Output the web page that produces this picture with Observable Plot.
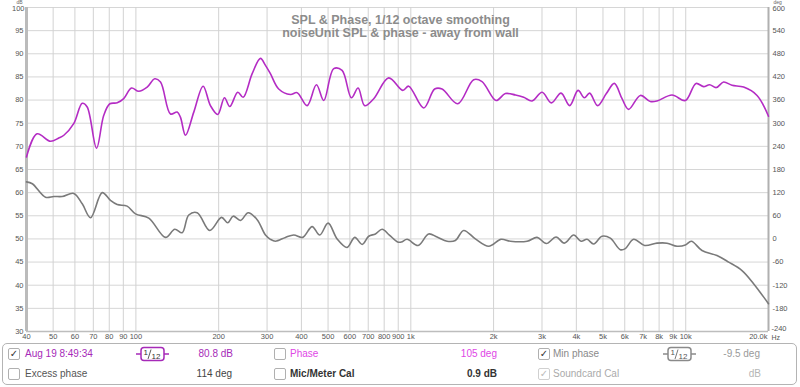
<!DOCTYPE html>
<html><head><meta charset="utf-8">
<script src="https://cdn.jsdelivr.net/npm/d3@7"></script>
<script src="https://cdn.jsdelivr.net/npm/@observablehq/plot@0.6"></script>
<style>
body{margin:0;background:#fff;font-family:"Liberation Sans",Arial,sans-serif;}
#chart{position:relative;width:800px;height:342px;}
#legend{position:relative;width:800px;height:45px;}
.panel{position:absolute;left:2px;top:1px;width:795px;height:42px;border:1px solid #b4b4b4;border-radius:5px;box-sizing:border-box;}
.t{position:absolute;font-size:10px;white-space:nowrap;line-height:12px;}
.cb{position:absolute;width:12px;height:12px;border:1px solid #b0b0b0;border-radius:2px;box-sizing:border-box;background:#fff;font-family:"DejaVu Sans";font-size:10px;line-height:10px;text-align:center;color:#333;}
</style></head>
<body>
<div id="chart"></div>
<div id="legend"></div>
<script>
// ---- data ----
const splFreq = [40,43.7,48.9,52.4,54.7,59.4,63.8,66.5,71.9,76.4,80.4,85.5,90.3,96.4,102.4,109.9,117.1,122.9,133.6,141.3,145.2,151.5,162.4,175.6,186.7,198.5,210,219.5,234.7,245.5,264.8,283.8,296,308.5,330.7,364.8,385.9,419.6,453.6,482.3,524.3,562.3,607.9,643,679.6,732.8,830.8,934.1,982.4,1114,1221,1299,1481,1693,1816,2042,2207,2401,2574,2761,3002,3245,3519,3782,4058,4278,4472,4781,5143,5499,5865,6198,6836,7432,7862,8913,9965,10900,11610,12210,12920,13730,14730,16240,18170,20000];
const splDb = [67.7,72.7,71.1,71.8,72.4,74.9,79.3,78.5,69.6,76.7,79.2,79.4,80.3,82.6,81.9,82.8,84.6,83.9,77.0,77.4,76.3,72.4,77.4,83.0,78.8,76.9,80.5,78.6,81.7,80.6,85.7,89.0,87.5,85.7,82.4,81.2,81.6,78.8,83.3,79.9,86.8,86.4,80.5,82.6,78.8,80.3,84.8,82.1,83.0,78.3,82.4,82.4,79.2,84.4,84.0,79.9,81.4,81.1,80.6,79.8,81.7,79.4,81.5,78.8,82.1,80.5,81.5,78.8,81.4,83.6,80.3,78.0,81.0,79.7,79.8,81.1,79.9,83.6,82.9,83.3,82.7,83.9,83.2,82.8,81.0,76.5];
const phaseFreq = [40,42,46.9,50.3,53.9,59.4,63.8,68.4,75.4,80.8,85.5,92.9,99.7,111.4,128.1,138.5,147.3,155.7,167.1,185.6,204.8,215.8,225.8,240.1,256.1,276.1,296,308.5,321.7,349.9,375.1,404.5,437.5,466.3,500.2,539.5,586.5,625.2,665.1,702.9,743.4,786.2,835.7,896,924,969.2,1063,1161,1246,1355,1452,1557,1717,1920,2130,2301,2648,2879,3112,3376,3619,3911,4161,4375,4624,4961,5317,5781,6029,6463,7087,7862,8550,9296,9965,10480,11460,12990,14320,16020,17650,20000];
const phaseDeg = [148,143,108,110,110,118,91,55,120,100,89,85,65,54,4,25,16,62,68,22,56,42,59,48,68,50,10,-1,-6,4,10,4,32,10,41,0,-22,4,-14,7,13,25,10,-8,-8,-1,-17,13,5,-6,-4,22,0,-19,-1,-6,-6,4,-12,5,-11,10,-6,-1,-13,7,2,-28,-25,-1,-17,-11,-11,-19,-16,-6,-30,-43,-60,-82,-116,-168];
const xTicks = [40,50,60,70,80,90,100,200,300,400,500,600,700,800,900,1000,2000,3000,4000,5000,6000,7000,8000,9000,10000,20000];
const dbTicks = [30,35,40,45,50,55,60,65,70,75,80,85,90,95,100];
const degTicks = [-240,-180,-120,-60,0,60,120,180,240,300,360,420,480,540,600];
const titleLines = ["SPL & Phase, 1/12 octave smoothing", "noiseUnit SPL & phase - away from wall"];

// ---- build ----
const spl = splFreq.map((f,i)=>({f, v: splDb[i]}));
const degToDb = d => d/12 + 50;
const phase = phaseFreq.map((f,i)=>({f, v: degToDb(phaseDeg[i])}));
const fmtX = v => v===20000 ? "20.0k" : v>=1000 ? (v/1000)+"k" : String(v);
const xMain = xTicks.filter(v => v !== 20000), xLast = xTicks.filter(v => v === 20000);
const dbMain = dbTicks.filter(v => v !== 100), dbTop = dbTicks.filter(v => v === 100);
const degMain = degTicks.filter(v => v !== 600 && v !== -240);
const degTop = degTicks.filter(v => v === 600), degBottom = degTicks.filter(v => v === -240);
const tickStyle = {fontSize: 7.5, fill: "#555"};

const chart = Plot.plot({
  width: 800, height: 342,
  marginLeft: 26, marginRight: 32, marginTop: 7, marginBottom: 11,
  style: {fontFamily: "Liberation Sans, Arial, sans-serif", fontSize: "7.5px", color: "#555", background: "#fff", overflow: "visible"},
  x: {type: "log", domain: [40, 20000], axis: null},
  y: {domain: [30, 100], axis: null},
  marks: [
    Plot.gridY(dbTicks, {stroke: "#d6d6d6", strokeOpacity: 1, strokeWidth: 1}),
    Plot.gridX(xTicks, {stroke: "#d2d2d2", strokeOpacity: 1, strokeWidth: 1}),
    Plot.ruleY([30], {stroke: "#bdbdbd", strokeWidth: 1.5}),
    Plot.ruleX([40], {stroke: "#bbbbbb", strokeWidth: 3}),
    Plot.ruleX([20000], {stroke: "#b0b0b0", strokeWidth: 2}),
    // x tick labels
    Plot.text(xMain, {x: d => d, frameAnchor: "bottom", lineAnchor: "top", dy: 2.5, text: fmtX, ...tickStyle}),
    Plot.text(xLast, {x: d => d, frameAnchor: "bottom", lineAnchor: "top", dy: 2.5, dx: -1, textAnchor: "end", text: fmtX, ...tickStyle}),
    Plot.text(["Hz"], {frameAnchor: "bottom-right", lineAnchor: "top", dy: 4, dx: 3, textAnchor: "start", fontSize: 7, fill: "#555"}),
    // left dB labels
    Plot.text(dbMain, {y: d => d, frameAnchor: "left", dx: -3, textAnchor: "end", text: d => String(d), ...tickStyle}),
    Plot.text(dbTop, {y: d => d, frameAnchor: "left", dx: -2, dy: 1.5, textAnchor: "end", text: d => String(d), ...tickStyle}),
    // right deg labels
    Plot.text(degMain, {y: d => degToDb(d), frameAnchor: "right", dx: 4, textAnchor: "start", text: d => String(d), ...tickStyle}),
    Plot.text(degTop, {y: d => degToDb(d), frameAnchor: "right", dx: 4, dy: 1.5, textAnchor: "start", text: d => String(d), ...tickStyle}),
    Plot.text(degBottom, {y: d => degToDb(d), frameAnchor: "right", dx: 3, dy: -2.5, textAnchor: "start", text: d => String(d), ...tickStyle}),
    Plot.text(["dB"], {frameAnchor: "top-left", dx: -4, dy: -7, lineAnchor: "top", textAnchor: "end", fontSize: 5, fill: "#666"}),
    Plot.text(["deg"], {frameAnchor: "top-right", dx: 5, dy: -7, lineAnchor: "top", textAnchor: "start", fontSize: 5, fill: "#666"}),
    Plot.line(phase, {x: "f", y: "v", stroke: "#7a7a7a", strokeWidth: 1.6, curve: "catmull-rom"}),
    Plot.line(spl, {x: "f", y: "v", stroke: "#b42cc4", strokeWidth: 1.6, curve: "catmull-rom"}),
    Plot.text([titleLines[0]], {frameAnchor: "top", dx: 3, dy: 8, fontSize: 12.5, fontWeight: "bold", fill: "#8c8c8c"}),
    Plot.text([titleLines[1]], {frameAnchor: "top", dx: 3, dy: 20.5, fontSize: 12.5, fontWeight: "bold", fill: "#8c8c8c"})
  ]
});
document.getElementById("chart").appendChild(chart);

// ---- legend panel ----
const legendItems = [
  {type:"cb", x:8, y:6, checked:true},
  {type:"t", x:25, y:6, text:"Aug 19 8:49:34", color:"#a62ab8"},
  {type:"icon", x:135, y:4, color:"#a62ab8", txt:"#333"},
  {type:"t", x:233, y:6, text:"80.8 dB", color:"#a62ab8", right:true},
  {type:"cb", x:274, y:6, checked:false},
  {type:"t", x:290, y:6, text:"Phase", color:"#e046e6"},
  {type:"t", x:497, y:6, text:"105 deg", color:"#e046e6", right:true},
  {type:"cb", x:538, y:6, checked:true},
  {type:"t", x:553, y:6, text:"Min phase", color:"#8a8a8a"},
  {type:"icon", x:662, y:4, color:"#8a8a8a", txt:"#555"},
  {type:"t", x:760, y:6, text:"-9.5 deg", color:"#9a9a9a", right:true},
  {type:"cb", x:8, y:26, checked:false},
  {type:"t", x:25, y:26, text:"Excess phase", color:"#555"},
  {type:"t", x:232, y:26, text:"114 deg", color:"#444", right:true},
  {type:"cb", x:274, y:26, checked:false},
  {type:"t", x:290, y:26, text:"Mic/Meter Cal", color:"#333", bold:true},
  {type:"t", x:497, y:26, text:"0.9 dB", color:"#333", right:true, bold:true},
  {type:"cb", x:538, y:26, checked:true, light:true},
  {type:"t", x:553, y:26, text:"Soundcard Cal", color:"#aaa"},
  {type:"t", x:761, y:26, text:"dB", color:"#b5b5b5", right:true}
];
const leg = document.getElementById("legend");
const panel = document.createElement("div"); panel.className = "panel"; leg.appendChild(panel);
for (const it of legendItems) {
  if (it.type === "cb") {
    const d = document.createElement("div"); d.className = "cb";
    d.style.left = it.x + "px"; d.style.top = it.y + "px";
    if (it.checked) d.textContent = "✓";
    if (it.light) { d.style.color = "#bbb"; d.style.borderColor = "#d0d0d0"; }
    leg.appendChild(d);
  } else if (it.type === "t") {
    const d = document.createElement("div"); d.className = "t";
    d.textContent = it.text; d.style.color = it.color; d.style.top = it.y + "px";
    if (it.bold) d.style.fontWeight = "bold";
    if (it.right) { d.style.right = (800 - it.x) + "px"; } else { d.style.left = it.x + "px"; }
    leg.appendChild(d);
  } else if (it.type === "icon") {
    const s = d3.create("svg").attr("width", 36).attr("height", 16)
      .style("position", "absolute").style("left", it.x + "px").style("top", it.y + "px");
    s.append("line").attr("x1", 1).attr("x2", 6).attr("y1", 8).attr("y2", 8).attr("stroke", it.color).attr("stroke-width", 1.5);
    s.append("line").attr("x1", 29).attr("x2", 34).attr("y1", 8).attr("y2", 8).attr("stroke", it.color).attr("stroke-width", 1.5);
    s.append("rect").attr("x", 6).attr("y", 1.5).attr("width", 23).attr("height", 13).attr("rx", 3).attr("fill", "#fff").attr("stroke", it.color).attr("stroke-width", 1.5);
    s.append("text").attr("x", 8.5).attr("y", 9).attr("font-size", 8).attr("fill", it.txt).attr("font-family", "Liberation Sans").text("1");
    s.append("line").attr("x1", 13).attr("x2", 16).attr("y1", 13).attr("y2", 3.5).attr("stroke", it.txt).attr("stroke-width", 0.8);
    s.append("text").attr("x", 16.5).attr("y", 13).attr("font-size", 8).attr("fill", it.txt).attr("font-family", "Liberation Sans").text("12");
    leg.appendChild(s.node());
  }
}
</script>
</body></html>
